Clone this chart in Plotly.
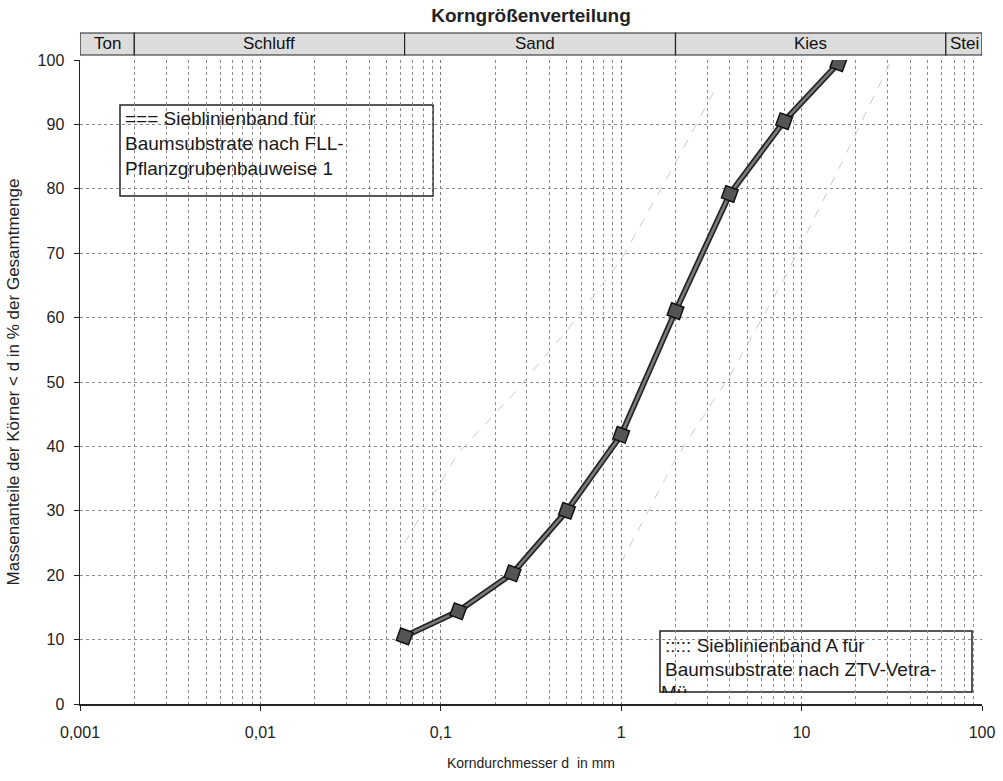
import numpy as np
import plotly.graph_objects as go

# ---- data ----
sieve_mm = [0.063, 0.125, 0.25, 0.5, 1, 2, 4, 8, 16]
passing_pct = [10.5, 14.4, 20.3, 30.0, 41.8, 61.0, 79.2, 90.5, 99.5]

# faint band lines (ZTV band, barely visible)
band_upper_mm = [0.063, 0.125, 0.25, 0.5, 1, 2, 3.4]
band_upper_pct = [25, 39, 48, 58, 69, 84, 96]
band_lower_mm = [1, 2, 4, 8, 16, 31.5]
band_lower_pct = [22, 38, 51, 66, 83, 100]

# soil fraction band
frac_names = ["Ton", "Schluff", "Sand", "Kies", "Stei"]
frac_bounds = [0.001, 0.002, 0.063, 2, 63, 100]

x_tickvals = [0.001, 0.01, 0.1, 1, 10, 100]
x_ticktext = ["0,001", "0,01", "0,1", "1", "10", "100"]
y_tickvals = [0, 10, 20, 30, 40, 50, 60, 70, 80, 90, 100]

FONT = "Liberation Sans, Arial, sans-serif"
W, H = 1003, 781
ML, MR, MT, MB = 80, 21, 60, 77
PW, PH = W - ML - MR, H - MT - MB


def px_x(p):
    return (p - ML) / PW


def px_y(p):
    return (H - MB - p) / PH


fig = go.Figure()

fig.add_trace(go.Scatter(x=band_upper_mm, y=band_upper_pct, mode="lines",
                         line=dict(color="#cccccc", width=1, dash="dash"),
                         hoverinfo="skip", showlegend=False))
fig.add_trace(go.Scatter(x=band_lower_mm, y=band_lower_pct, mode="lines",
                         line=dict(color="#cccccc", width=1, dash="dash"),
                         hoverinfo="skip", showlegend=False))

# main curve: dark outline + lighter core
fig.add_trace(go.Scatter(x=sieve_mm, y=passing_pct, mode="lines",
                         line=dict(color="#262626", width=6),
                         hoverinfo="skip", showlegend=False))
fig.add_trace(go.Scatter(x=sieve_mm, y=passing_pct, mode="lines+markers",
                         line=dict(color="#7c7c7c", width=2.5),
                         marker=dict(symbol="square", size=13, angle=20,
                                     color="#555555",
                                     line=dict(color="#111111", width=1.5)),
                         showlegend=False))

shapes = []
annotations = []

# fraction band above the plot
y0b, y1b = px_y(55), px_y(33)
for i, name in enumerate(frac_names):
    a, b = frac_bounds[i], frac_bounds[i + 1]
    shapes.append(dict(type="rect", xref="x", yref="paper", x0=a, x1=b,
                       y0=y0b, y1=y1b, fillcolor="#dcdcdc",
                       line=dict(color="#222222", width=1.2), layer="above"))
    if name == "Stei":
        annotations.append(dict(xref="x", yref="paper", x=np.log10(a) + 0.01,
                                y=(y0b + y1b) / 2, text=name, showarrow=False,
                                xanchor="left", yanchor="middle",
                                font=dict(family=FONT, size=17, color="#111")))
    else:
        cx = (np.log10(a) + np.log10(b)) / 2
        if name == "Sand":
            cx -= 0.03
        annotations.append(dict(xref="x", yref="paper", x=cx,
                                y=(y0b + y1b) / 2, text=name, showarrow=False,
                                xanchor="center", yanchor="middle",
                                font=dict(family=FONT, size=17, color="#111")))

# legend box 1
shapes.append(dict(type="rect", xref="paper", yref="paper",
                   x0=px_x(120), x1=px_x(433), y0=px_y(196), y1=px_y(105),
                   fillcolor="white", line=dict(color="#222", width=1.5),
                   layer="between"))
box1_lines = ["=== Sieblinienband für", "Baumsubstrate nach FLL-",
              "Pflanzgrubenbauweise 1"]
for k, t in enumerate(box1_lines):
    annotations.append(dict(xref="paper", yref="paper", x=px_x(123),
                            y=px_y(118 + 25 * k), text=t, showarrow=False,
                            xanchor="left", yanchor="middle",
                            font=dict(family=FONT, size=19, color="#1a1a1a")))

# legend box 2
shapes.append(dict(type="rect", xref="paper", yref="paper",
                   x0=px_x(660), x1=px_x(972), y0=px_y(692), y1=px_y(631),
                   fillcolor="white", line=dict(color="#222", width=1.5),
                   layer="between"))
box2_lines = ["::::: Sieblinienband A für", "Baumsubstrate nach ZTV-Vetra-"]
for k, t in enumerate(box2_lines):
    annotations.append(dict(xref="paper", yref="paper", x=px_x(663),
                            y=px_y(645 + 24 * k), text=t, showarrow=False,
                            xanchor="left", yanchor="middle",
                            font=dict(family=FONT, size=19, color="#1a1a1a")))
# clipped third line "Mü"
fig.add_trace(go.Scatter(x=[10 ** (-3 + (661 - ML) / (PW / 5))],
                         y=[(H - MB - 694) / PH * 100], mode="text",
                         text=["Mü"], textposition="middle right",
                         textfont=dict(family=FONT, size=19, color="#1a1a1a"),
                         hoverinfo="skip", showlegend=False, cliponaxis=True))
shapes.append(dict(type="rect", xref="paper", yref="paper",
                   x0=px_x(661), x1=px_x(700), y0=px_y(703), y1=px_y(693),
                   fillcolor="white", line=dict(width=0), layer="above"))

fig.update_layout(
    width=W, height=H,
    margin=dict(l=ML, r=MR, t=MT, b=MB, autoexpand=False),
    paper_bgcolor="white", plot_bgcolor="white",
    font=dict(family=FONT, color="#222"),
    title=dict(text="<b>Korngrößenverteilung</b>", x=(ML + PW / 2) / W,
               xanchor="center", y=1 - 15 / H, yanchor="middle",
               font=dict(family=FONT, size=19, color="#222")),
    shapes=shapes, annotations=annotations,
    hovermode=False,
)

fig.update_xaxes(
    type="log", range=[-3, 2], automargin=False,
    tickvals=x_tickvals, ticktext=x_ticktext,
    tickfont=dict(family=FONT, size=16, color="#222"),
    ticks="outside", ticklen=5, tickcolor="#222", ticklabelstandoff=8,
    showline=True, linecolor="#222", linewidth=1.8,
    showgrid=True, gridcolor="#7a7a7a", griddash="dot", gridwidth=1,
    minor=dict(dtick="D1", showgrid=True, gridcolor="#8a8a8a",
               griddash="dot", gridwidth=1, ticks=""),
    zeroline=False,
    title=dict(text="Korndurchmesser d  in mm", standoff=18,
               font=dict(family=FONT, size=14, color="#222")),
)
fig.update_yaxes(
    range=[0, 100], tickvals=y_tickvals, automargin=False,
    tickfont=dict(family=FONT, size=16, color="#222"),
    ticks="outside", ticklen=5, tickcolor="#222", ticklabelstandoff=6,
    showline=True, linecolor="#222", linewidth=1.5,
    showgrid=True, gridcolor="#8a8a8a", griddash="dot", gridwidth=1,
    zeroline=False,
    title=dict(text="Massenanteile der Körner < d in % der Gesamtmenge",
               standoff=13, font=dict(family=FONT, size=17, color="#222")),
)

fig.write_html(
    "out.html",
    config={"displayModeBar": False, "staticPlot": True},
    post_script="document.body.style.margin='0';document.body.style.overflow='hidden';",
)
